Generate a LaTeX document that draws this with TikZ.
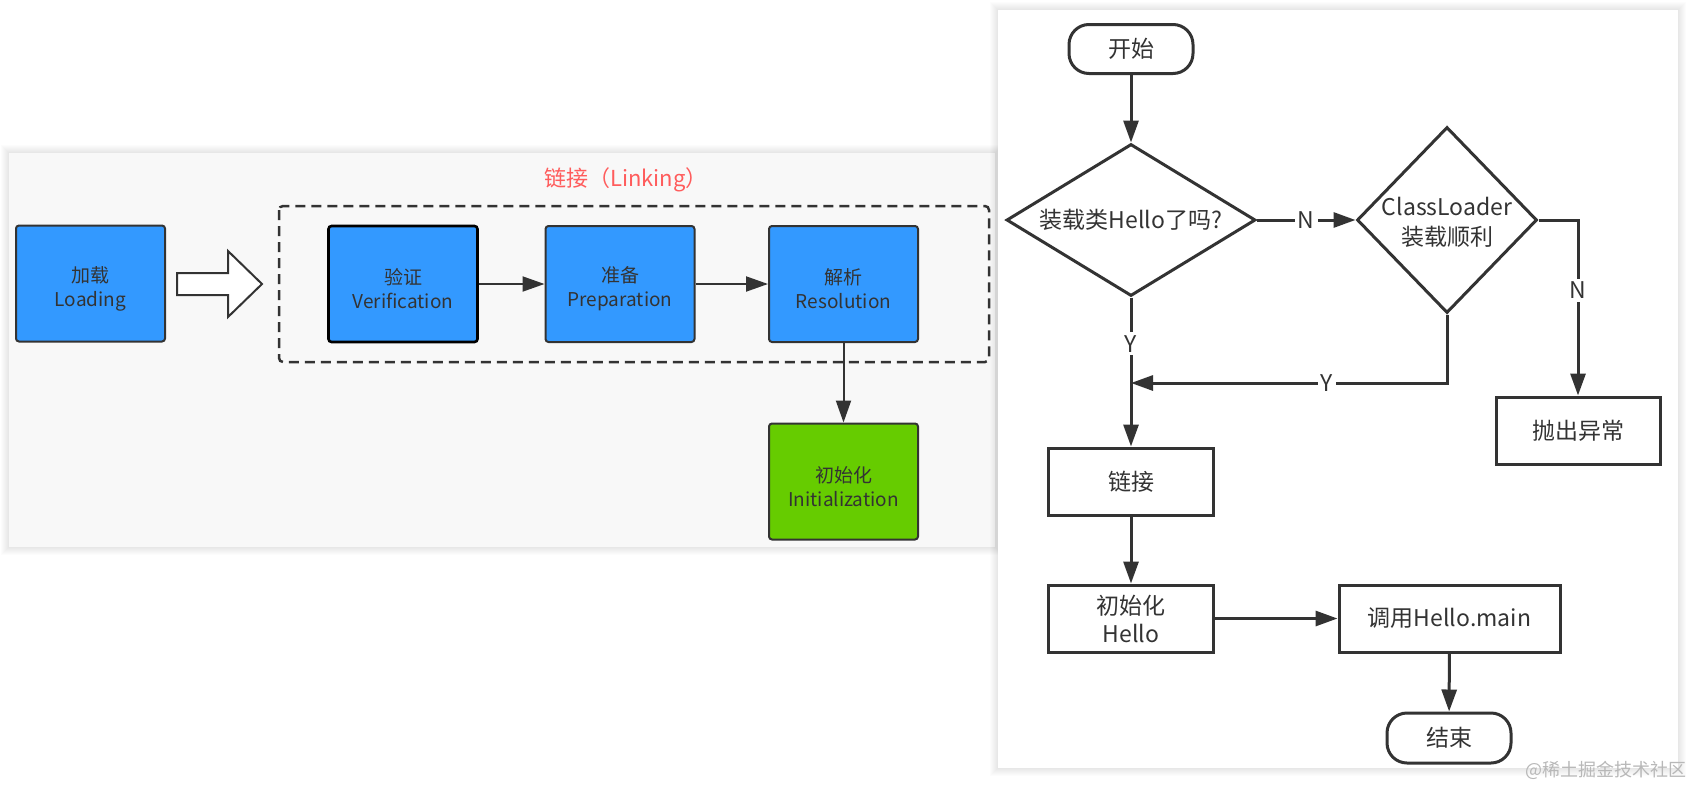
\documentclass[tikz,border=0pt]{standalone}
\usepackage{fontspec}
\setmainfont{Noto Sans CJK SC}
\usetikzlibrary{arrows.meta,shapes.geometric}
\definecolor{boxblue}{HTML}{3399FF}
\definecolor{boxgreen}{HTML}{66CC00}
\definecolor{edgec}{HTML}{333333}
\definecolor{titlered}{HTML}{FF5C5C}
\definecolor{panelgrey}{HTML}{F8F8F8}
\tikzset{
  stagebox/.style={draw=edgec, line width=2pt, rounded corners=3pt, fill=boxblue,
    minimum width=149pt, minimum height=116pt, inner sep=0pt},
  stagetext/.style={inner sep=0pt, align=center, yshift=-5pt,
    font=\fontsize{19pt}{24pt}\selectfont, text=black!80},
  flowbox/.style={draw=edgec, line width=3pt, fill=white, minimum width=165pt,
    minimum height=67pt, inner sep=0pt, align=center,
    font=\fontsize{23pt}{28pt}\selectfont, text=edgec},
  termbox/.style={flowbox, rounded corners=20pt, minimum width=124pt, minimum height=49pt},
  diabox/.style={draw=edgec, line width=3pt, diamond, inner sep=0pt, fill=white},
  rtext/.style={inner sep=0pt, align=center, font=\fontsize{23pt}{30pt}\selectfont, text=edgec},
  larrow/.style={draw=edgec, line width=2pt, -{Triangle[length=22pt,width=15pt]}},
  rarrow/.style={draw=edgec, line width=3pt, -{Triangle[length=22pt,width=15pt]}},
  lbl/.style={fill=white, inner sep=3pt, font=\fontsize{23pt}{26pt}\selectfont, text=edgec},
}
\begin{document}
\begin{tikzpicture}[x=1pt,y=-1pt]
\useasboundingbox (0,0) rectangle (1692,785);
\fill[white] (0,0) rectangle (1692,785);
% left panel with shadow
\foreach \r in {1,...,8}
  \fill[black, fill opacity=0.012] (9-\r,153-\r) rectangle (995+\r,547+\r);
\fill[panelgrey] (9,153) rectangle (995,547);
% right panel with shadow
\foreach \r in {1,...,8}
  \fill[black, fill opacity=0.012] (998-\r,10-\r) rectangle (1678+\r,768+\r);
\fill[white] (998,10) rectangle (1678,768);

% ---------- left diagram ----------
\node[text=titlered, font=\fontsize{22pt}{26pt}\selectfont] (title) at (626,180) {链接（Linking）};
\draw[edgec, line width=2.5pt, dash pattern=on 10pt off 6pt, rounded corners=4pt]
  (279,206) rectangle (989,362);
\node[stagebox] (load) at (90.5,283.5) {};
\node[stagetext] (loadt) at (load) {加载\\Loading};
\node[stagebox, draw=black, line width=2.6pt] (verify) at (403,284) {};
\node[stagetext] (verifyt) at (verify) {验证\\Verification};
\node[stagebox] (prep) at (620,284) {};
\node[stagetext] (prept) at (prep) {准备\\Preparation};
\node[stagebox] (resol) at (843.5,284) {};
\node[stagetext] (resolt) at (resol) {解析\\Resolution};
\node[stagebox, fill=boxgreen] (init) at (843.5,481.5) {};
\node[stagetext] (initt) at (init) {初始化\\Initialization};
\draw[edgec, line width=2pt, fill=white, line join=miter]
  (177,273) -- (228,273) -- (228,251) -- (262,284) -- (228,317) -- (228,295) -- (177,295) -- cycle;
\draw[larrow] (verify) -- (prep);
\draw[larrow] (prep) -- (resol);
\draw[larrow] (resol) -- (init);

% ---------- right diagram ----------
\node[termbox] (start) at (1131,49) {开始};
\node[diabox, minimum width=249pt, minimum height=152pt] (d1) at (1131,220) {};
\node[rtext] (d1t) at (1131,220) {装载类Hello了吗?};
\node[diabox, minimum width=180pt, minimum height=186pt] (d2) at (1447,220) {};
\node[rtext] (d2t) at (1447,222) {ClassLoader\\装载顺利};
\node[flowbox] (link) at (1131,481.5) {链接};
\node[flowbox] (inith) at (1131,618.5) {初始化\\Hello};
\node[flowbox, minimum width=221pt] (callm) at (1449.5,618.5) {调用Hello.main};
\node[termbox, minimum height=50pt] (endn) at (1449,738) {结束};
\node[flowbox, minimum width=164pt] (throw) at (1578,430.5) {抛出异常};
\coordinate (join) at (1131,383);

\draw[rarrow] (start) -- (d1);
\draw[rarrow] (d1.east) -- node[lbl, pos=0.5] {N} (d2.west);
\draw[rarrow] (d2.east) -| node[lbl, pos=0.70] {N} (throw.north);
\draw[rarrow] (d2.south) |- node[lbl, pos=0.69] {Y} (join);
\draw[rarrow] (d1.south) -- node[lbl, pos=0.31] {Y} (link.north);
\draw[rarrow] (link) -- (inith);
\draw[rarrow] (inith) -- (callm);
\draw[rarrow] (callm) -- (endn);

\node[text=black!28, font=\fontsize{18pt}{20pt}\selectfont, anchor=east] (wm) at (1690,770) {@稀土掘金技术社区};
\end{tikzpicture}
\end{document}
